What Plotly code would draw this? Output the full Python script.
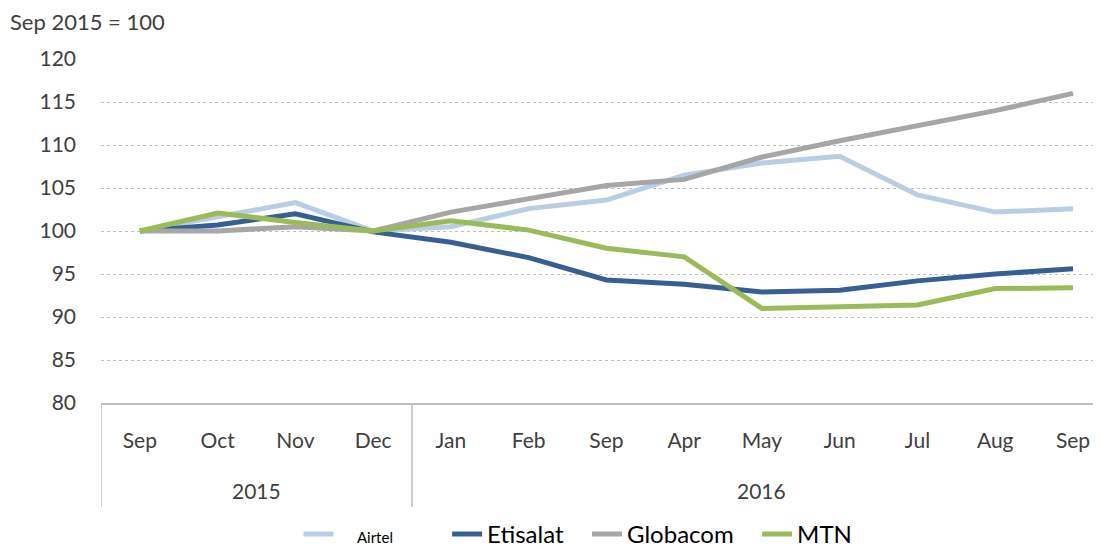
import plotly.graph_objects as go

# Index values, Sep 2015 = 100
years = ['2015'] * 4 + ['2016'] * 9
months = ['Sep', 'Oct', 'Nov', 'Dec', 'Jan', 'Feb', 'Sep', 'Apr', 'May', 'Jun', 'Jul', 'Aug', 'Sep']
# unique category keys (the 2016 row has "Sep" twice)
cats = [f'{m} {y} #{i}' for i, (m, y) in enumerate(zip(months, years))]

airtel = [100, 101.7, 103.3, 100.0, 100.5, 102.6, 103.6, 106.5, 107.9, 108.7, 104.2, 102.2, 102.6]
etisalat = [100, 100.7, 102.0, 99.9, 98.7, 96.9, 94.3, 93.8, 92.9, 93.1, 94.2, 95.0, 95.6]
globacom = [100, 100.0, 100.5, 100.0, 102.2, 103.8, 105.3, 106.0, 108.6, 110.5, 112.2, 114.0, 116.0]
mtn = [100, 102.1, 101.0, 100.0, 101.2, 100.1, 98.0, 97.0, 91.0, 91.2, 91.4, 93.3, 93.4]

NB = '&nbsp;'
series = [
    (NB * 3 + '<span style="font-size:15px">Airtel</span>' + NB * 8, airtel, '#B9CDE5'),
    ('Etisalat' + NB * 3, etisalat, '#376092'),
    ('Globacom' + NB * 3, globacom, '#A6A6A6'),
    ('MTN', mtn, '#9BBB59'),
]

FONT = 'Lato, "Open Sans", sans-serif'
TEXT = '#404040'
AXIS = '#BFBFBF'

fig = go.Figure()
for name, vals, color in series:
    fig.add_trace(go.Scatter(
        x=cats,
        y=vals,
        mode='lines',
        name=name,
        line=dict(color=color, width=5),
    ))

# year group labels and dividers below the axis
shapes = []
annotations = []
groups = []
for i, y in enumerate(years):
    if not groups or groups[-1][0] != y:
        groups.append([y, i, i])
    else:
        groups[-1][2] = i
for y, start, end in groups:
    annotations.append(dict(
        text=y, xref='x', yref='paper',
        x=(start + end) / 2, y=-0.253,
        xanchor='center', yanchor='middle',
        showarrow=False, font=dict(size=21, color=TEXT),
    ))
    shapes.append(dict(
        type='line', xref='x', yref='paper',
        x0=start - 0.5, x1=start - 0.5, y0=0, y1=-0.302,
        line=dict(color=AXIS, width=1.5),
    ))

annotations.append(dict(
    text='Sep 2015 = 100',
    xref='paper', yref='paper',
    x=-0.093, y=1.108,
    xanchor='left', yanchor='middle',
    showarrow=False,
    font=dict(size=22, color=TEXT),
))

fig.update_layout(
    width=1101,
    height=549,
    margin=dict(l=93, r=8, t=51, b=154),
    paper_bgcolor='white',
    plot_bgcolor='white',
    font=dict(family=FONT, size=21, color=TEXT),
    showlegend=True,
    legend=dict(
        orientation='h',
        x=0.477, xanchor='center',
        yref='container',
        y=-0.005, yanchor='bottom',
        font=dict(size=24, color='black'),
    ),
    xaxis=dict(
        type='category',
        categoryorder='array',
        categoryarray=cats,
        tickvals=cats,
        ticktext=months,
        range=[-0.5, 12.36],
        showgrid=False,
        showline=True,
        linecolor=AXIS,
        linewidth=1.5,
        ticks='',
        ticklabelstandoff=18,
        tickfont=dict(size=21, color=TEXT),
    ),
    yaxis=dict(
        range=[80, 120],
        dtick=5,
        showgrid=True,
        gridcolor=AXIS,
        griddash='dot',
        gridwidth=1,
        zeroline=False,
        showline=False,
        ticklabelstandoff=24,
        tickfont=dict(size=21, color=TEXT),
    ),
    shapes=shapes,
    annotations=annotations,
)

fig.write_html("out.html")
